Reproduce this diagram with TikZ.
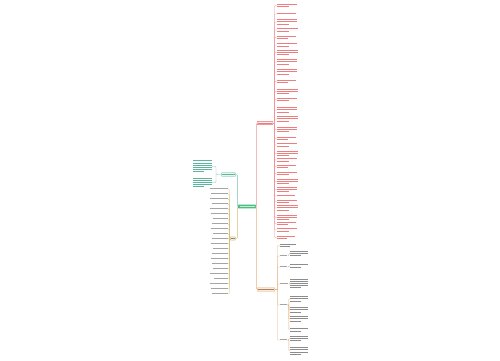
\documentclass[tikz,border=0pt]{standalone}
\usepackage{xcolor}
\usepackage{tikz}

\definecolor{rootgreen}{RGB}{76,190,128}
\definecolor{tealc}{RGB}{64,170,140}
\definecolor{pinkc}{RGB}{232,104,104}
\definecolor{orangec}{RGB}{226,160,100}
\definecolor{beigec}{RGB}{214,190,120}
\definecolor{greyc}{RGB}{150,150,150}
\definecolor{darkc}{RGB}{120,120,120}

% unreadable small print, drawn as rows of strokes inside a node
\newcommand{\inkfill}[4]{%
  \foreach \k in {1,...,#2}{%
    \pgfmathsetmacro\inklen{\k==#2 ? (#2==1 ? #3 : 0.6*#3) : #3}%
    \draw[ink, #4] ([yshift={-(\k-1)*2.2pt-0.4pt}]#1.north west) -- ++(\inklen,0);}}

\begin{document}
\begin{tikzpicture}[x=1pt, y=-1pt,
    branchbox/.style={draw, line width=0.4pt, inner sep=0pt, minimum height=3.3pt, rounded corners=0.3pt},
    rootbox/.style={fill=rootgreen, inner sep=0pt, minimum width=17.6pt, minimum height=3.8pt, rounded corners=0.3pt},
    leaf/.style={inner sep=0pt, minimum height=0.8pt},
    ink/.style={line width=0.8pt, opacity=0.85},
    tealline/.style={draw=tealc!70, line width=0.35pt, rounded corners=0.8pt},
    beigeline/.style={draw=beigec, line width=0.35pt, rounded corners=0.8pt},
    pinkline/.style={draw=pinkc!70, line width=0.35pt, rounded corners=0.8pt},
    orangeline/.style={draw=orangec!80, line width=0.35pt, rounded corners=0.8pt}]
    \useasboundingbox[fill=white] (0,0) rectangle (500,360);

    % centre and the four branches
    \node[rootbox] (root) at (247,206.5) {};
    \node[branchbox, draw=tealc, fill=white, minimum width=14pt] (teal) at (228.5,174.5) {};
    \node[branchbox, draw=beigec, fill=beigec!25, minimum width=5pt] (beige) at (232.8,238.5) {};
    \node[branchbox, draw=pinkc, fill=pinkc!10, minimum width=15.5pt] (pink) at (265,123) {};
    \node[branchbox, draw=orangec, fill=orangec!12, minimum width=17.5pt] (orange) at (266,289.5) {};
    \draw[ink, white!80!rootgreen, line width=0.5pt] ([xshift=1.5pt]root.west) -- ([xshift=-1.5pt]root.east);
    \draw[ink, tealc] ([xshift=1pt]teal.west) -- ([xshift=-1pt]teal.east);
    \draw[ink, darkc] ([xshift=1pt]beige.west) -- ([xshift=-1pt]beige.east);
    \draw[ink, pinkc] ([xshift=1pt]pink.west) -- ([xshift=-1pt]pink.east);
    \draw[ink, orangec!70!black] ([xshift=1pt]orange.west) -- ([xshift=-1pt]orange.east);

    \coordinate (lj) at (237.4,206.5);
    \coordinate (rj) at (256.6,206.5);
    \draw[tealline] (root.west) -- (lj) |- (teal.east);
    \draw[beigeline] (lj) |- (beige.east);
    \draw[pinkline] (root.east) -- (rj) |- (pink.west);
    \draw[orangeline] (rj) |- (orange.west);

    % teal branch
    \coordinate (tj) at (216,174.5);
    \node[leaf, anchor=east, minimum width=19pt, minimum height=11.8pt] (t1) at (212,166.5) {};
    \node[leaf, anchor=east, minimum width=19pt, minimum height=9.6pt] (t2) at (212,182.5) {};
    \inkfill{t1}{6}{19}{tealc}
    \inkfill{t2}{5}{19}{tealc}
    \draw[tealline] (teal.west) -- (tj) |- (t1.east);
    \draw[tealline] (tj) |- (t2.east);

    % beige branch
    \coordinate (bj) at (229.3,238.5);
    \draw[beigeline] (beige.west) -- (bj);
    \foreach \y/\w [count=\i] in {189/18, 194/17, 199/18, 204/16, 209/18, 214/17,
        219/15, 224/16, 229/17, 234/15, 239/16, 244/17, 249/15, 254/16, 259/17,
        264/16, 269/15, 274/18, 279/14, 284/18, 289/17, 294/16} {
      \node[leaf, anchor=east, minimum width=\w pt] (l\i) at (228,\y) {};
      \inkfill{l\i}{1}{\w}{greyc}
      \draw[beigeline] (bj) |- (l\i.east);
    }

    % pink branch
    \coordinate (pj) at (274.5,123);
    \draw[pinkline] (pink.east) -- (pj);
    \foreach \y/\n/\w [count=\i] in {5.5/2/20, 14/1/19, 22/3/20, 30/2/21, 37.5/2/19,
        45/2/20, 52.5/3/21, 62/3/20, 72/3/20, 81.5/2/19, 91.5/3/21, 99.5/2/20,
        110/3/20, 119/3/21, 129.5/3/20, 138.5/2/19, 145/2/20, 153.5/3/21,
        160/2/20, 166.5/2/19, 173.5/2/20, 181.5/3/21, 189.5/3/20, 196/1/18,
        201.5/2/20, 208/3/21, 217.5/3/20, 223.5/2/19, 230/2/20, 237.5/2/18} {
      \node[leaf, anchor=west, minimum width=\w pt, minimum height={\n*2.2pt-1.4pt}] (r\i) at (276.5,\y) {};
      \inkfill{r\i}{\n}{\w}{pinkc}
      \draw[pinkline] (pj) |- (r\i.west);
    }

    % orange branch
    \coordinate (oj) at (277.5,289.5);
    \draw[orangeline] (orange.east) -- (oj);
    \node[leaf, anchor=west, minimum width=16pt, minimum height=3pt] (o0) at (280,245.5) {};
    \inkfill{o0}{2}{16}{darkc}
    \draw[orangeline] (oj) |- (o0.west);
    \foreach \y/\w [count=\i] in {256/7, 267/7, 284/8, 305/7, 340/7} {
      \node[leaf, anchor=west, minimum width=\w pt] (ol\i) at (280,\y) {};
      \inkfill{ol\i}{1}{\w}{greyc}
      \draw[orangeline] (oj) |- (ol\i.west);
    }
    \foreach \p/\y/\n [count=\i] in {1/253.5/3, 2/266/2, 3/283.5/5, 4/299/3, 4/310/3,
        4/319/3, 4/330/2, 5/338.5/3, 5/351/4} {
      \node[leaf, anchor=west, minimum width=18pt, minimum height={\n*2.2pt-1.4pt}] (ob\i) at (290,\y) {};
      \inkfill{ob\i}{\n}{18}{darkc}
      \draw[orangeline] (ol\p.east) -- ++(1.5,0) |- (ob\i.west);
    }
\end{tikzpicture}
\end{document}
